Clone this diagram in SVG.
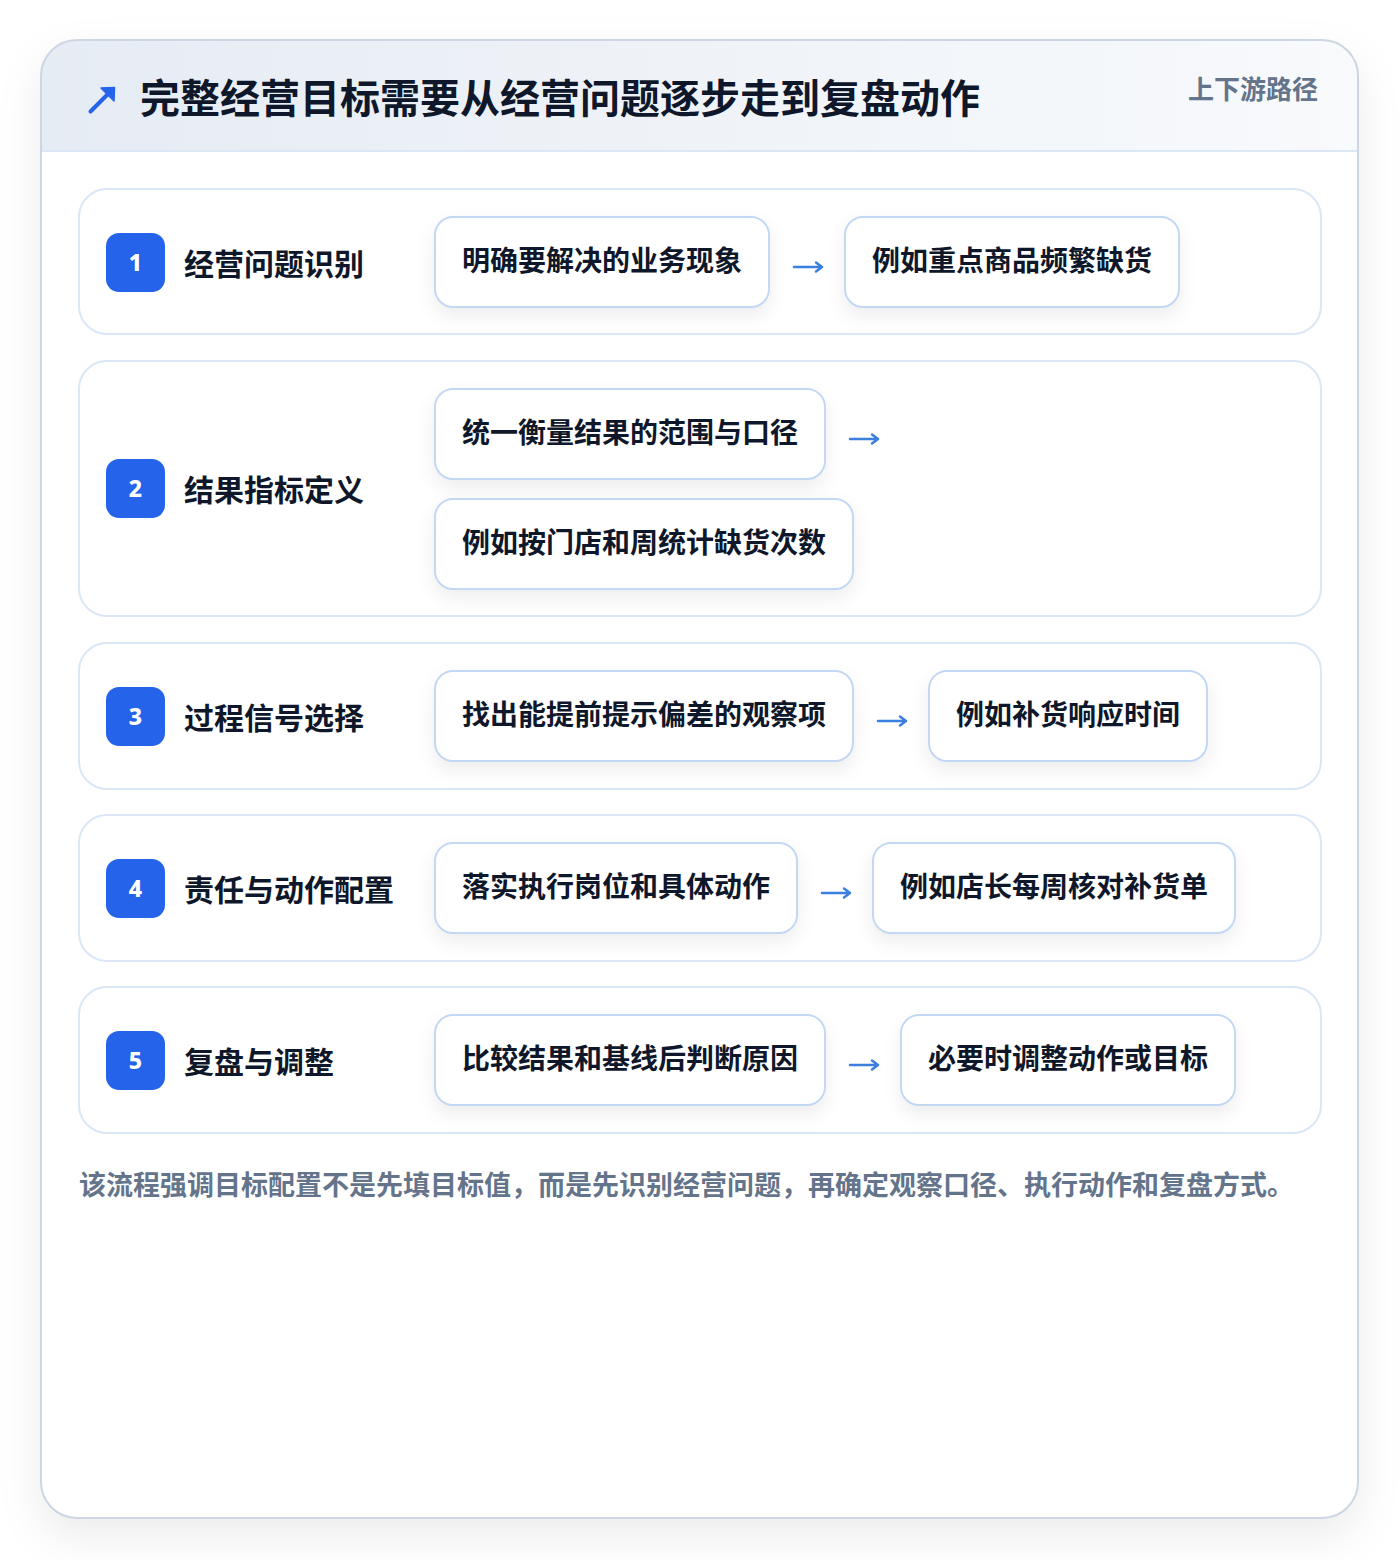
<svg xmlns="http://www.w3.org/2000/svg" width="1400" height="1560" viewBox="0 0 1400 1560">
<defs>
<linearGradient id="hdr" x1="0" y1="0" x2="1" y2="0">
<stop offset="0" stop-color="#e6ecf4"/>
<stop offset="1" stop-color="#f8fafc"/>
</linearGradient>
<clipPath id="cardClip"><rect x="41" y="40" width="1317" height="1478" rx="36"/></clipPath>
<filter id="outerShadow" x="-10%" y="-10%" width="120%" height="120%">
<feDropShadow dx="0" dy="18" stdDeviation="22" flood-color="#0f172a" flood-opacity="0.08"/>
</filter>
<filter id="boxShadow" x="-20%" y="-30%" width="140%" height="170%">
<feDropShadow dx="0" dy="8" stdDeviation="9" flood-color="#0f172a" flood-opacity="0.07"/>
</filter>
</defs>
<style>
.cjk{font-family:"Noto Sans CJK SC","Noto Sans",sans-serif;font-weight:700}
.row{fill:#ffffff;stroke:#dbe7f6;stroke-width:2}
.badge{fill:#2563eb}
.num{font-family:"Noto Sans","Liberation Sans",sans-serif;font-weight:800;font-size:23px;fill:#ffffff}
.lbl{font-size:30px;fill:#0f172a}
.box{fill:#ffffff;stroke:#c3d8f3;stroke-width:2;filter:url(#boxShadow)}
.btx{font-size:28px;fill:#0f172a}
.conn{stroke:#3b7fe0;stroke-width:2.5;fill:none;stroke-linecap:round;stroke-linejoin:round}
</style>
<rect width="1400" height="1560" fill="#ffffff"/>
<g id="card">
<rect x="41" y="40" width="1317" height="1478" rx="36" fill="#ffffff" filter="url(#outerShadow)"/>
<g clip-path="url(#cardClip)">
<rect x="41" y="40" width="1317" height="111" fill="url(#hdr)"/>
<line x1="41" y1="151" x2="1358" y2="151" stroke="#dbe7f6" stroke-width="2"/>
</g>
<rect x="41" y="40" width="1317" height="1478" rx="36" fill="none" stroke="#cdd6e2" stroke-width="2"/>
</g>
<g id="header">
<path d="M90.5 111.5L108 94" stroke="#2563eb" stroke-width="4" stroke-linecap="round" fill="none"/>
<path d="M101 88L114.5 87.5L114 101Z" fill="#2563eb" stroke="#2563eb" stroke-width="1.5" stroke-linejoin="round"/>
<text x="140" y="96" class="cjk" font-size="40" fill="#0f172a" dominant-baseline="central">完整经营目标需要从经营问题逐步走到复盘动作</text>
<text x="1318" y="87" class="cjk" font-size="26" fill="#64748b" text-anchor="end" dominant-baseline="central">上下游路径</text>
</g>
<g id="step1">
<rect class="row" x="79" y="189" width="1242" height="145" rx="28"/>
<rect class="badge" x="106" y="233" width="59" height="59" rx="13"/>
<text class="num" x="135.5" y="262" text-anchor="middle" dominant-baseline="central">1</text>
<text class="cjk lbl" x="184" y="262" dominant-baseline="central">经营问题识别</text>
</g>
<g id="step1-a"><rect class="box" x="435" y="217" width="334" height="90" rx="18"/><text class="cjk btx" x="462" y="259" dominant-baseline="central">明确要解决的业务现象</text></g>
<g id="step1-b"><rect class="box" x="845" y="217" width="334" height="90" rx="18"/><text class="cjk btx" x="872" y="259" dominant-baseline="central">例如重点商品频繁缺货</text></g>

<g id="step2">
<rect class="row" x="79" y="361" width="1242" height="255" rx="28"/>
<rect class="badge" x="106" y="459" width="59" height="59" rx="13"/>
<text class="num" x="135.5" y="488" text-anchor="middle" dominant-baseline="central">2</text>
<text class="cjk lbl" x="184" y="488" dominant-baseline="central">结果指标定义</text>
</g>
<g id="step2-a"><rect class="box" x="435" y="389" width="390" height="90" rx="18"/><text class="cjk btx" x="462" y="431" dominant-baseline="central">统一衡量结果的范围与口径</text></g>
<g id="step2-b"><rect class="box" x="435" y="499" width="418" height="90" rx="18"/><text class="cjk btx" x="462" y="541" dominant-baseline="central">例如按门店和周统计缺货次数</text></g>

<g id="step3">
<rect class="row" x="79" y="643" width="1242" height="146" rx="28"/>
<rect class="badge" x="106" y="687" width="59" height="59" rx="13"/>
<text class="num" x="135.5" y="716" text-anchor="middle" dominant-baseline="central">3</text>
<text class="cjk lbl" x="184" y="716" dominant-baseline="central">过程信号选择</text>
</g>
<g id="step3-a"><rect class="box" x="435" y="671" width="418" height="90" rx="18"/><text class="cjk btx" x="462" y="713" dominant-baseline="central">找出能提前提示偏差的观察项</text></g>
<g id="step3-b"><rect class="box" x="929" y="671" width="278" height="90" rx="18"/><text class="cjk btx" x="956" y="713" dominant-baseline="central">例如补货响应时间</text></g>

<g id="step4">
<rect class="row" x="79" y="815" width="1242" height="146" rx="28"/>
<rect class="badge" x="106" y="859" width="59" height="59" rx="13"/>
<text class="num" x="135.5" y="888" text-anchor="middle" dominant-baseline="central">4</text>
<text class="cjk lbl" x="184" y="888" dominant-baseline="central">责任与动作配置</text>
</g>
<g id="step4-a"><rect class="box" x="435" y="843" width="362" height="90" rx="18"/><text class="cjk btx" x="462" y="885" dominant-baseline="central">落实执行岗位和具体动作</text></g>
<g id="step4-b"><rect class="box" x="873" y="843" width="362" height="90" rx="18"/><text class="cjk btx" x="900" y="885" dominant-baseline="central">例如店长每周核对补货单</text></g>

<g id="step5">
<rect class="row" x="79" y="987" width="1242" height="146" rx="28"/>
<rect class="badge" x="106" y="1031" width="59" height="59" rx="13"/>
<text class="num" x="135.5" y="1060" text-anchor="middle" dominant-baseline="central">5</text>
<text class="cjk lbl" x="184" y="1060" dominant-baseline="central">复盘与调整</text>
</g>
<g id="step5-a"><rect class="box" x="435" y="1015" width="390" height="90" rx="18"/><text class="cjk btx" x="462" y="1057" dominant-baseline="central">比较结果和基线后判断原因</text></g>
<g id="step5-b"><rect class="box" x="901" y="1015" width="334" height="90" rx="18"/><text class="cjk btx" x="928" y="1057" dominant-baseline="central">必要时调整动作或目标</text></g>

<g id="connectors">
<path class="conn" d="M794 267H822M816 262.5L822 267L816 271.5"/>
<path class="conn" d="M850 439H878M872 434.5L878 439L872 443.5"/>
<path class="conn" d="M878 721H906M900 716.5L906 721L900 725.5"/>
<path class="conn" d="M822 893H850M844 888.5L850 893L844 897.5"/>
<path class="conn" d="M850 1065H878M872 1060.5L878 1065L872 1069.5"/>
</g>
<g id="footer">
<text x="79" y="1183" class="cjk" font-size="27" fill="#64748b" dominant-baseline="central">该流程强调目标配置不是先填目标值，而是先识别经营问题，再确定观察口径、执行动作和复盘方式。</text>
</g>
</svg>
